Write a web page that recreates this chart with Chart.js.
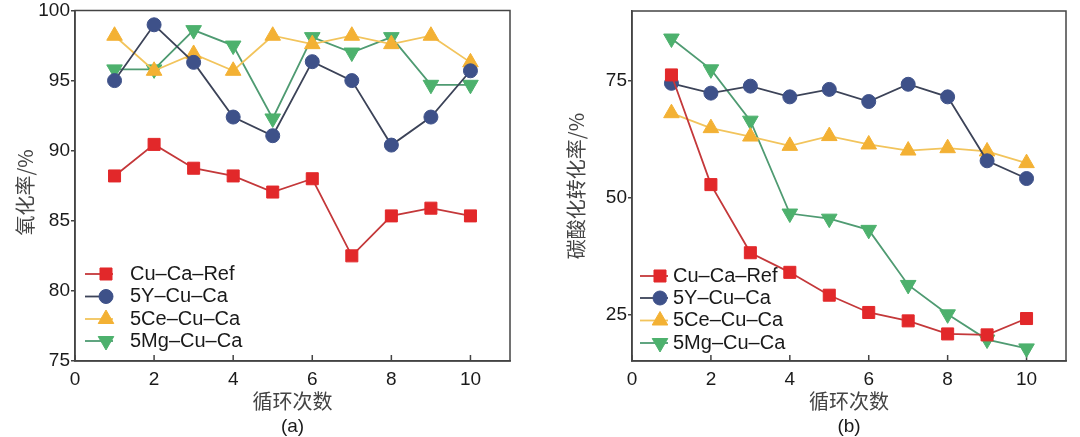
<!DOCTYPE html>
<html lang="zh">
<head>
<meta charset="UTF-8">
<title>循环性能</title>
<script src="https://cdn.jsdelivr.net/npm/chart.js"></script>
<style>
  body { margin: 0; background: #fff; }
  canvas { position: absolute; top: 0; }
  #chartA { left: 0; }
  #chartB { left: 540px; }
</style>
</head>
<body>
<canvas id="chartA" width="540" height="437"></canvas>
<canvas id="chartB" width="540" height="437"></canvas>
<script>
// cycle numbers and tick values
const cycles = [1, 2, 3, 4, 5, 6, 7, 8, 9, 10];
const xTicks = [0, 2, 4, 6, 8, 10];
const seriesNames = ['Cu–Ca–Ref', '5Y–Cu–Ca', '5Ce–Cu–Ca', '5Mg–Cu–Ca'];

// (a) 氧化率 /%
const oxRef = [88.2, 90.45, 88.75, 88.2, 87.05, 88.0, 82.5, 85.35, 85.9, 85.35];
const ox5Y  = [95.0, 98.98, 96.3, 92.4, 91.07, 96.35, 95.0, 90.4, 92.4, 95.7];
const ox5Ce = [98.2, 95.7, 96.9, 95.7, 98.2, 97.6, 98.2, 97.6, 98.2, 96.3];
const ox5Mg = [95.8, 95.8, 98.6, 97.5, 92.3, 98.1, 97.0, 98.1, 94.7, 94.7];
const yTicksA = [75, 80, 85, 90, 95, 100];

// (b) 碳酸化转化率 /%
const carbRef = [76.3, 52.8, 38.2, 34.0, 29.1, 25.4, 23.6, 20.8, 20.6, 24.1];
const carb5Y  = [74.5, 72.4, 73.9, 71.6, 73.2, 70.6, 74.3, 71.6, 57.9, 54.1];
const carb5Ce = [68.1, 64.9, 63.1, 61.1, 63.2, 61.4, 60.1, 60.6, 59.9, 57.4];
const carb5Mg = [84.1, 77.5, 66.5, 46.6, 45.5, 43.1, 31.3, 25.0, 19.6, 17.7];
const yTicksB = [25, 50, 75];

const LATIN = '"Liberation Sans", Arial, sans-serif';
const CJK = '"Noto Sans CJK SC", "Noto Sans", sans-serif';

const looks = [
  { line: '#c4383a', fill: '#e2282a', shape: 'rect', r: 8.5, rot: 0 },
  { line: '#3c4358', fill: '#3e5189', shape: 'circle', r: 7, rot: 0 },
  { line: '#f2c45c', fill: '#f3b134', shape: 'triangle', r: 9, rot: 0 },
  { line: '#4f9b72', fill: '#4db16d', shape: 'triangle', r: 9, rot: 180 }
];

function makeSets(seriesList) {
  return seriesList.map((vals, i) => ({
    label: seriesNames[i],
    data: cycles.map((c, k) => ({ x: c, y: vals[k] })),
    borderColor: looks[i].line,
    borderWidth: 1.8,
    pointStyle: looks[i].shape,
    pointRotation: looks[i].rot,
    pointRadius: looks[i].r,
    pointBackgroundColor: looks[i].fill,
    pointBorderColor: looks[i].fill,
    pointBorderWidth: 1,
    tension: 0
  }));
}

// box around the plot + inward ticks on the x axis
const frame = {
  id: 'frame',
  beforeDatasetsDraw(chart) {
    const { ctx, chartArea: a, scales: { x } } = chart;
    ctx.save();
    ctx.strokeStyle = '#444';
    ctx.lineWidth = 1.5;
    ctx.strokeRect(a.left, a.top, a.right - a.left, a.bottom - a.top);
    ctx.beginPath();
    x.ticks.forEach(t => {
      const px = x.getPixelForValue(t.value);
      ctx.moveTo(px, a.bottom);
      ctx.lineTo(px, a.bottom - 6);
    });
    ctx.stroke();
    ctx.restore();
  }
};

// legend with line + marker, inside the plot
const boxLegend = {
  id: 'boxLegend',
  afterDatasetsDraw(chart, args, opts) {
    const ctx = chart.ctx;
    chart.data.datasets.forEach((ds, i) => {
      const y = opts.rows[i];
      ctx.save();
      ctx.strokeStyle = ds.borderColor;
      ctx.lineWidth = ds.borderWidth;
      ctx.beginPath();
      ctx.moveTo(opts.lineFrom, y);
      ctx.lineTo(opts.lineTo, y);
      ctx.stroke();
      ctx.fillStyle = ds.pointBackgroundColor;
      ctx.strokeStyle = ds.pointBorderColor;
      ctx.lineWidth = ds.pointBorderWidth;
      Chart.helpers.drawPoint(ctx, {
        pointStyle: ds.pointStyle, rotation: ds.pointRotation,
        radius: ds.pointRadius, borderWidth: ds.pointBorderWidth
      }, opts.markX, y);
      ctx.fillStyle = '#1a1a1a';
      ctx.font = '20px ' + LATIN;
      ctx.textBaseline = 'middle';
      ctx.textAlign = 'left';
      ctx.fillText(ds.label, opts.textX, y);
      ctx.restore();
    });
  }
};

function makeChart(id, sets, p) {
  return new Chart(document.getElementById(id), {
    type: 'line',
    data: { datasets: sets },
    options: {
      responsive: false,
      animation: false,
      devicePixelRatio: 1,
      layout: { padding: { left: 0, right: p.right, top: p.top, bottom: 0 } },
      plugins: {
        legend: { display: false },
        tooltip: { enabled: false },
        subtitle: {
          display: true, text: p.tag, position: 'bottom', fullSize: false,
          color: '#1a1a1a', font: { family: LATIN, size: 19, lineHeight: 1 },
          padding: { top: 6, bottom: 1 }
        },
        boxLegend: p.legend
      },
      scales: {
        x: {
          type: 'linear', min: 0, max: 11,
          afterBuildTicks: s => { s.ticks = xTicks.map(v => ({ value: v })); },
          afterFit: s => { s.height = 50; },
          grid: { drawOnChartArea: false, drawTicks: false },
          border: { color: '#444', width: 1.5 },
          ticks: { padding: 7, color: '#1a1a1a', font: { family: LATIN, size: 19 } },
          title: {
            display: true, text: '循环次数', color: '#444',
            font: { family: CJK, size: 20, lineHeight: 1 },
            padding: { top: 0, bottom: 0 }
          }
        },
        y: {
          min: p.yMin, max: p.yMax,
          afterBuildTicks: s => { s.ticks = p.yTicks.map(v => ({ value: v })); },
          afterFit: s => { s.width = p.yWidth; },
          grid: { drawOnChartArea: false, tickLength: p.tickLen, color: '#444', lineWidth: 1.5 },
          border: { color: '#444', width: 1.5 },
          ticks: { padding: 1, color: '#1a1a1a', font: { family: LATIN, size: 19, lineHeight: 1 } },
          title: {
            display: true, text: p.yTitle, color: '#444',
            font: { family: CJK, size: 20, lineHeight: 1 },
            padding: { top: p.titlePad, bottom: 0 }
          }
        }
      }
    },
    plugins: [frame, boxLegend]
  });
}

makeChart('chartA', makeSets([oxRef, ox5Y, ox5Ce, ox5Mg]), {
  tag: '(a)', yTitle: '氧化率/%   ', yMin: 75, yMax: 100, yTicks: yTicksA,
  yWidth: 75, right: 30, top: 10, tickLen: 4, titlePad: 15,
  legend: { rows: [274, 296.5, 319, 341], lineFrom: 85, lineTo: 113, markX: 106, textX: 130 }
});

makeChart('chartB', makeSets([carbRef, carb5Y, carb5Ce, carb5Mg]), {
  tag: '(b)', yTitle: '碳酸化转化率/%', yMin: 15, yMax: 90, yTicks: yTicksB,
  yWidth: 92, right: 14, top: 11, tickLen: 4, titlePad: 26,
  legend: { rows: [276, 298, 320.5, 343], lineFrom: 100, lineTo: 128, markX: 120, textX: 133 }
});
</script>
</body>
</html>
